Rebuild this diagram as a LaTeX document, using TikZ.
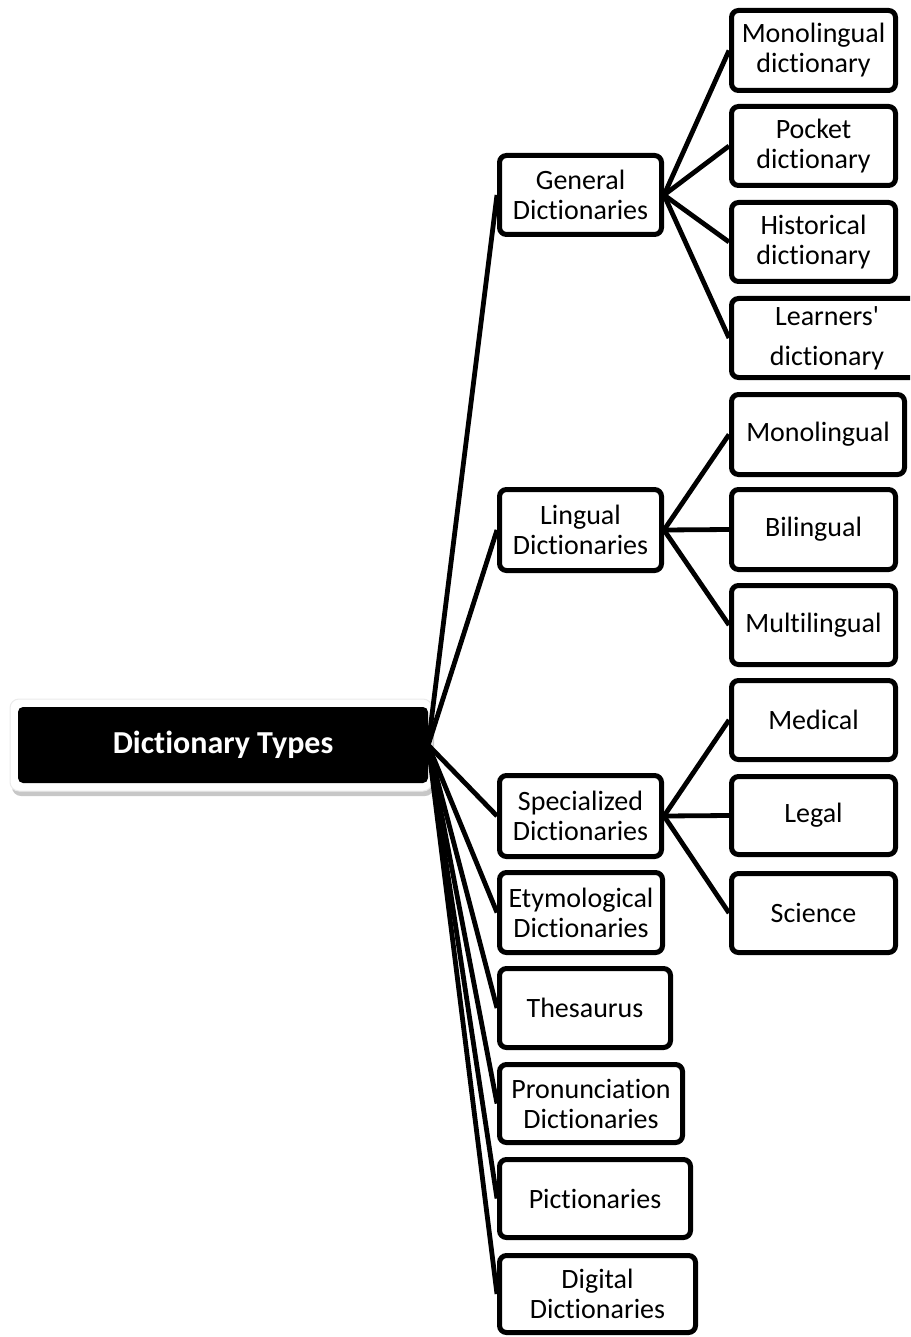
\documentclass[tikz,border=0pt]{standalone}
\usepackage{fontspec}
\newfontfamily\cf{Carlito}[Ligatures=NoCommon]
\begin{document}
\begin{tikzpicture}[x=1pt,y=-1pt,
  box/.style={draw=black, line width=5pt, rounded corners=7pt, fill=white,
    inner sep=0pt, align=center, font=\cf\fontsize{28}{30}\selectfont},
  conn/.style={draw=black, line width=4.8pt}]
\useasboundingbox (0,0) rectangle (910,1337);
\clip (0,0) rectangle (910,1337);
% root with glow and shadow
\fill[black!22, rounded corners=9pt] (12,705) rectangle (434,796);
\draw[fill=white, draw=black!8, line width=1pt, rounded corners=9pt] (10,699) rectangle (432,791);
\node[fill=black, rounded corners=5pt, minimum width=410pt, minimum height=76pt, inner sep=0pt,
  text=white, font=\cf\fontsize{32}{36}\selectfont\bfseries] (root) at (223,745) {Dictionary Types};
% level 1
\node[box, minimum width=162pt, minimum height=79pt] (gen) at (580.5,195) {General\\Dictionaries};
\node[box, minimum width=162pt, minimum height=81pt] (lin) at (580.5,530) {Lingual\\Dictionaries};
\node[box, minimum width=162pt, minimum height=81pt] (spe) at (580.5,816) {Specialized\\Dictionaries};
\node[box, minimum width=163pt, minimum height=80pt] (ety) at (581,912.5) {Etymological\\Dictionaries};
\node[box, minimum width=171pt, minimum height=79pt] (the) at (585,1008) {Thesaurus};
\node[box, minimum width=183pt, minimum height=78pt] (pro) at (591,1103.5) {Pronunciation\\Dictionaries};
\node[box, minimum width=191pt, minimum height=78pt] (pic) at (595,1198.5) {Pictionaries};
\node[box, minimum width=196pt, minimum height=77pt] (dig) at (597.5,1294) {Digital\\Dictionaries};
% level 2
\node[box, minimum width=164pt, minimum height=80pt] (mono1) at (813.5,50.5) {Monolingual\\dictionary};
\node[box, minimum width=164pt, minimum height=79pt] (pock) at (813.5,146) {Pocket\\dictionary};
\node[box, minimum width=164pt, minimum height=79pt] (hist) at (813.5,242) {Historical\\dictionary};
\node[box, minimum width=191pt, minimum height=79pt, font=\cf\fontsize{28}{40}\selectfont] (lear) at (827,338) {Learners'\\dictionary};
\node[box, minimum width=173pt, minimum height=80pt] (mono2) at (818,434.5) {Monolingual};
\node[box, minimum width=164pt, minimum height=80pt] (bil) at (813.5,529.5) {Bilingual};
\node[box, minimum width=164pt, minimum height=79pt] (mul) at (813.5,625) {Multilingual};
\node[box, minimum width=164pt, minimum height=79pt] (med) at (813.5,720) {Medical};
\node[box, minimum width=164pt, minimum height=78pt] (leg) at (813.5,815.5) {Legal};
\node[box, minimum width=164pt, minimum height=79pt] (sci) at (813.5,913) {Science};
% connectors
\foreach \t in {gen,lin,spe,ety,the,pro,pic,dig} \draw[conn] (root.east) -- (\t.west);
\foreach \t in {mono1,pock,hist,lear} \draw[conn] (gen.east) -- (\t.west);
\foreach \t in {mono2,bil,mul} \draw[conn] (lin.east) -- (\t.west);
\foreach \t in {med,leg,sci} \draw[conn] (spe.east) -- (\t.west);
\end{tikzpicture}
\end{document}
